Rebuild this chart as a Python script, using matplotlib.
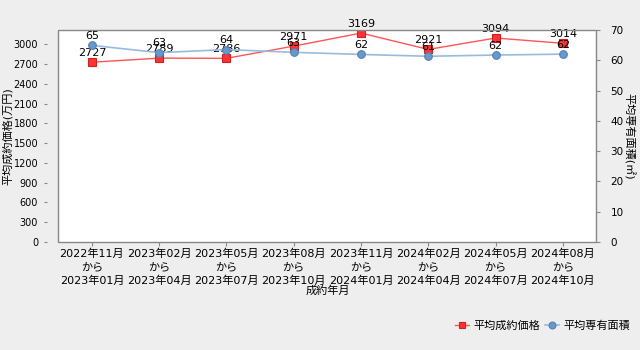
import matplotlib.pyplot as plt
from matplotlib.patches import Rectangle

plt.rcParams['font.family'] = ['DejaVu Sans', 'Noto Sans CJK JP']

periods = ['2022年11月\nから\n2023年01月', '2023年02月\nから\n2023年04月',
           '2023年05月\nから\n2023年07月', '2023年08月\nから\n2023年10月',
           '2023年11月\nから\n2024年01月', '2024年02月\nから\n2024年04月',
           '2024年05月\nから\n2024年07月', '2024年08月\nから\n2024年10月']
price = [2727, 2789, 2786, 2971, 3169, 2921, 3094, 3014]
area = [65.0, 62.6, 63.6, 62.7, 62.0, 61.4, 61.8, 62.1]
area_labels = [65, 63, 64, 63, 62, 61, 62, 62]

fig = plt.figure(figsize=(6.4, 3.5), dpi=100, facecolor='#eeeeee')
ax = fig.add_axes([0.091, 0.3086, 0.841, 0.605])
ax2 = ax.twinx()

x = range(len(periods))
ax.plot(x, price, color='#ff5555', lw=1, marker='s', ms=5.5,
        mfc='#ff3333', mec='#cc2222', mew=0.8, zorder=3, label='平均成約価格')
ax2.plot(x, area, color='#99bbdd', lw=1.2, marker='o', ms=5.5,
         mfc='#6699cc', mec='#5580b0', mew=0.8, zorder=3, label='平均専有面積')

for i, v in enumerate(price):
    ax.annotate(str(v), (i, v), xytext=(0, 3), textcoords='offset points',
                ha='center', va='bottom', fontsize=8)
for i, v in enumerate(area):
    ax2.annotate(str(area_labels[i]), (i, v), xytext=(0, 3), textcoords='offset points',
                 ha='center', va='bottom', fontsize=8)

ax.set_xlim(-0.5, len(periods) - 0.5)
ax.set_ylim(0, 3212)
ax2.set_ylim(0, 70)
ax.set_yticks(range(0, 3001, 300))
ax2.set_yticks(range(0, 71, 10))
ax.set_xticks(list(x))
ax.set_xticklabels(periods, fontsize=8, linespacing=1.35)

# left ticks sit a little away from the plot frame
ax.spines['left'].set_position(('outward', 8))
for a in (ax, ax2):
    for s in a.spines.values():
        s.set_visible(False)
ax.add_patch(Rectangle((0, 0), 1, 1, transform=ax.transAxes, fill=False,
                       edgecolor='#888888', lw=1, clip_on=False, zorder=5))

ax.tick_params(axis='y', labelsize=7, length=2.5, color='#888888', pad=4)
ax.tick_params(axis='x', length=3, color='#888888', pad=2)
ax2.tick_params(axis='y', labelsize=7.5, length=3, color='#888888', pad=7)

ax.set_ylabel('平均成約価格(万円)', fontsize=8, va='center')
ax.yaxis.set_label_coords(-0.094, 0.5)
ax2.set_ylabel('平均専有面積(㎡)', fontsize=8, rotation=-90, va='center')
ax2.yaxis.set_label_coords(1.06, 0.5)
ax.set_xlabel('成約年月', fontsize=8, labelpad=0)

h1, l1 = ax.get_legend_handles_labels()
h2, l2 = ax2.get_legend_handles_labels()
fig.legend(h1 + h2, l1 + l2, loc='center right', bbox_to_anchor=(1.0, 0.069),
           frameon=False, ncol=2, fontsize=8, handlelength=1.2,
           handletextpad=0.4, columnspacing=0.5, markerscale=0.9)

fig.savefig('out.png', dpi=100, facecolor=fig.get_facecolor())
